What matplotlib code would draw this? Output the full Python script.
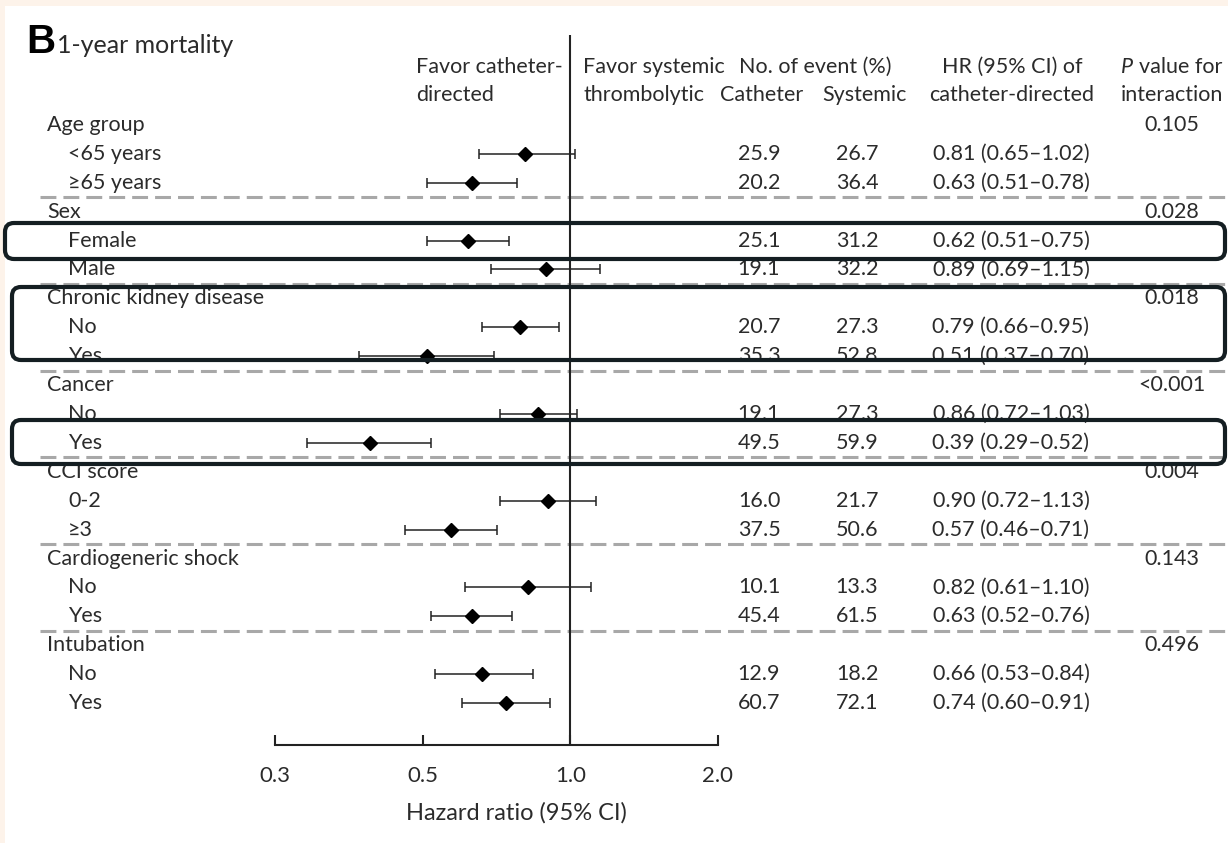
import matplotlib
matplotlib.use('Agg')
import matplotlib.pyplot as plt
import matplotlib.transforms as mtransforms
from matplotlib.patches import FancyBboxPatch, Rectangle
import numpy as np

plt.rcParams['font.family'] = ['Lato', 'DejaVu Sans']

groups = ['Age group', 'Sex', 'Chronic kidney disease', 'Cancer', 'CCI score',
          'Cardiogeneric shock', 'Intubation']
subgroups = [['<65 years', '≥65 years'], ['Female', 'Male'], ['No', 'Yes'], ['No', 'Yes'],
             ['0-2', '≥3'], ['No', 'Yes'], ['No', 'Yes']]
hr = [0.81, 0.63, 0.62, 0.89, 0.79, 0.51, 0.86, 0.39, 0.90, 0.57, 0.82, 0.63, 0.66, 0.74]
lo = [0.65, 0.51, 0.51, 0.69, 0.66, 0.37, 0.72, 0.29, 0.72, 0.46, 0.61, 0.52, 0.53, 0.60]
hi = [1.02, 0.78, 0.75, 1.15, 0.95, 0.70, 1.03, 0.52, 1.13, 0.71, 1.10, 0.76, 0.84, 0.91]
cath = [25.9, 20.2, 25.1, 19.1, 20.7, 35.3, 19.1, 49.5, 16.0, 37.5, 10.1, 45.4, 12.9, 60.7]
syst = [26.7, 36.4, 31.2, 32.2, 27.3, 52.8, 27.3, 59.9, 21.7, 50.6, 13.3, 61.5, 18.2, 72.1]
pvals = ['0.105', '0.028', '0.018', '<0.001', '0.004', '0.143', '0.496']
xticks = [0.25, 0.5, 1.0, 2.0]
xticklabels = ['0.3', '0.5', '1.0', '2.0']

W, H = 1228, 843
txt = '#2b2b2b'
fig = plt.figure(figsize=(W / 100, H / 100), dpi=100, facecolor='#fdf3ea')

# background axes in pixel coordinates
bg = fig.add_axes([0, 0, 1, 1], zorder=0)
bg.set_xlim(0, W)
bg.set_ylim(H, 0)
bg.axis('off')
bg.add_patch(Rectangle((5, 6), W, H, facecolor='white', edgecolor='none'))

# forest plot axes
ax = fig.add_axes([275 / W, 98 / H, 443 / W, 710 / H], zorder=1)
ax.patch.set_alpha(0)
ax.set_xscale('log', base=2)
ax.set_xlim(0.25, 2.0)
ax.set_ylim(21.453, -3.114)

rows = [3 * g + 1 + j for g in range(len(groups)) for j in range(2)]
hr_a = np.array(hr)
err = [hr_a - np.array(lo), np.array(hi) - hr_a]
ax.errorbar(hr, rows, xerr=err, fmt='D', color='black', ms=7.5, ecolor='#222222',
            elinewidth=1.1, capsize=3.8, capthick=1.1)
ax.axvline(1.0, color='#222222', lw=1.5)

for s in ['top', 'right', 'left']:
    ax.spines[s].set_visible(False)
ax.spines['bottom'].set_linewidth(1.5)
ax.spines['bottom'].set_color('#222222')
ax.set_yticks([])
ax.set_xticks(xticks)
ax.set_xticklabels(xticklabels)
ax.minorticks_off()
ax.tick_params(axis='x', direction='in', length=7, width=1.5, color='#222222',
               labelsize=16, labelcolor=txt, pad=15)
ax.set_xlabel('Hazard ratio (95% CI)', fontsize=17, color=txt)
ax.xaxis.set_label_coords(0.546, -0.081)

tr = mtransforms.blended_transform_factory(bg.transData, ax.transData)

# dashed separators
for g in range(len(groups) - 1):
    y = 3 * g + 2.5
    bg.plot([40, W], [y, y], transform=tr, color='#a8a8a8', lw=2.2,
            dashes=(5.2, 2.3))

fs = 15.5
# table text
for g, name in enumerate(groups):
    r = 3 * g
    bg.text(47, r, name, transform=tr, fontsize=fs, color=txt, va='center')
    bg.text(1172, r, pvals[g], transform=tr, fontsize=fs, color=txt, va='center', ha='center')
    for j in range(2):
        k = 2 * g + j
        rr = r + 1 + j
        bg.text(68, rr, subgroups[g][j], transform=tr, fontsize=fs, color=txt, va='center')
        bg.text(759, rr, f'{cath[k]:.1f}', transform=tr, fontsize=fs, color=txt,
                va='center', ha='center')
        bg.text(857, rr, f'{syst[k]:.1f}', transform=tr, fontsize=fs, color=txt,
                va='center', ha='center')
        bg.text(1011, rr, f'{hr[k]:.2f} ({lo[k]:.2f}–{hi[k]:.2f})', transform=tr,
                fontsize=fs, color=txt, va='center', ha='center')

# headers
bg.text(26, 53, 'B', fontsize=29, fontweight='bold', color='black', va='baseline',
        family=['Liberation Sans', 'DejaVu Sans'])
bg.text(57, 53, '1-year mortality', fontsize=18, color=txt, va='baseline')
bg.text(416, 67, 'Favor catheter-', fontsize=fs, color=txt, va='center')
bg.text(416, 95, 'directed', fontsize=fs, color=txt, va='center')
bg.text(583, 67, 'Favor systemic', fontsize=fs, color=txt, va='center')
bg.text(583, 95, 'thrombolytic', fontsize=fs, color=txt, va='center')
bg.text(815, 67, 'No. of event (%)', fontsize=fs, color=txt, va='center', ha='center')
bg.text(762, 95, 'Catheter', fontsize=fs, color=txt, va='center', ha='center')
bg.text(864, 95, 'Systemic', fontsize=fs, color=txt, va='center', ha='center')
bg.text(1012, 67, 'HR (95% CI) of', fontsize=fs, color=txt, va='center', ha='center')
bg.text(1012, 95, 'catheter-directed', fontsize=fs, color=txt, va='center', ha='center')
bg.text(1133, 67, 'P', fontsize=fs, color=txt, va='center', ha='right', style='italic')
bg.text(1139, 67, 'value for', fontsize=fs, color=txt, va='center', ha='left')
bg.text(1172, 95, 'interaction', fontsize=fs, color=txt, va='center', ha='center')

# highlight boxes
ov = fig.add_axes([0, 0, 1, 1], zorder=2)
ov.set_xlim(0, W)
ov.set_ylim(H, 0)
ov.axis('off')
ov.patch.set_alpha(0)
for x0, y0, y1 in [(5, 223, 259), (12, 287, 360), (12, 420, 464)]:
    ov.add_patch(FancyBboxPatch((x0, y0), 1225 - x0, y1 - y0,
                                boxstyle='round,pad=0,rounding_size=9',
                                facecolor='none', edgecolor='#141e22', lw=3))

fig.savefig('out.png', dpi=100, facecolor=fig.get_facecolor())
